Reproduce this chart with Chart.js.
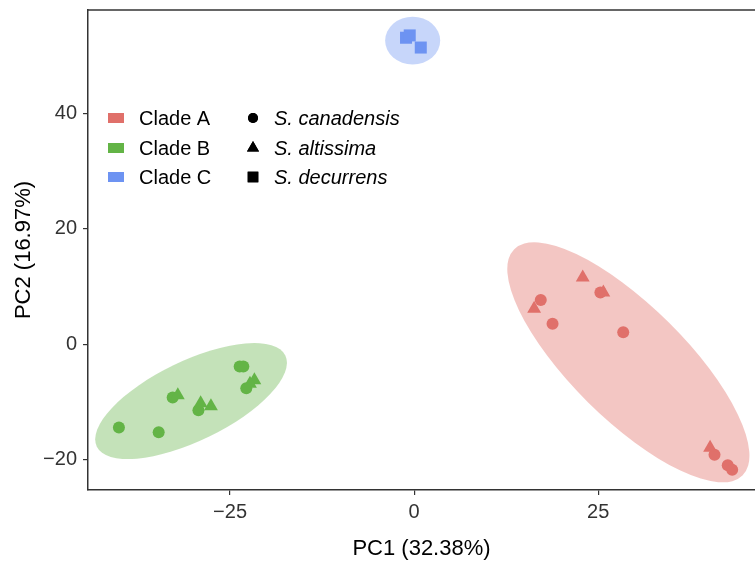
<!DOCTYPE html>
<html>
<head>
<meta charset="utf-8">
<script src="https://cdn.jsdelivr.net/npm/chart.js@4/dist/chart.umd.min.js"></script>
<style>
  body { margin: 0; background: #fff; }
  #wrap { width: 755px; height: 562px; }
</style>
</head>
<body>
<div id="wrap"><canvas id="pca"></canvas></div>
<script>
// categories
const clades = ['Clade A', 'Clade B', 'Clade C'];
const species = ['S. canadensis', 'S. altissima', 'S. decurrens'];

// PC1 / PC2 scores, species index per point (0 canadensis, 1 altissima, 2 decurrens)
const cladeA_x = [17.2, 18.8, 28.4, 25.3, 40.8, 42.6, 43.2, 22.9, 16.3, 25.7, 40.2];
const cladeA_y = [7.7, 3.6, 2.1, 9.0, -19.1, -20.9, -21.7, 11.6, 6.2, 9.0, -17.9];
const cladeA_sp = [0, 0, 0, 0, 0, 0, 0, 1, 1, 1, 1];

const cladeB_x = [-40.1, -34.7, -32.8, -29.3, -23.7, -23.2, -22.8, -32.1, -29.0, -27.6, -21.7, -22.3];
const cladeB_y = [-14.4, -15.2, -9.2, -11.4, -3.8, -3.8, -7.6, -8.8, -10.2, -10.7, -6.2, -6.8];
const cladeB_sp = [0, 0, 0, 0, 0, 0, 0, 1, 1, 1, 1, 1];

const cladeC_x = [-1.1, -0.6, 0.9];
const cladeC_y = [53.1, 53.5, 51.4];
const cladeC_sp = [2, 2, 2];

// confidence ellipses: centre, first semi-axis, second semi-axis (data units)
const ellipseA = [29.1, -3.1, 15.5, -19.6, 5.5, 6.9];
const ellipseB = [-30.3, -9.8, 12.8, 7.9, 2.4, -6.2];
const ellipseC = [-0.2, 52.6, 3.74, 0, 0, -4.14];

// axes
const xTicks = [-25, 0, 25];
const yTicks = [-20, 0, 20, 40];

const colors = ['#E0706A', '#63B446', '#6D93F2'];
const fills = ['rgba(224,112,106,0.4)', 'rgba(99,180,70,0.38)', 'rgba(109,147,242,0.38)'];
const styles = ['circle', 'triangle', 'rect'];
const radii = [6, 8, 8.5];
const FONT = "'Liberation Sans', Arial, Helvetica, sans-serif";

function makeSet(i, xs, ys, sp) {
  return {
    label: clades[i],
    data: xs.map((x, k) => ({ x: x, y: ys[k] })),
    backgroundColor: colors[i],
    borderWidth: 0,
    pointStyle: sp.map(s => styles[s]),
    pointRadius: sp.map(s => radii[s]),
    pointHoverRadius: sp.map(s => radii[s])
  };
}

const ellipsePlugin = {
  id: 'ellipses',
  beforeDatasetsDraw(chart) {
    const { ctx, chartArea, scales: { x, y } } = chart;
    const sx = x.getPixelForValue(1) - x.getPixelForValue(0);
    const sy = y.getPixelForValue(1) - y.getPixelForValue(0);
    ctx.save();
    ctx.beginPath();
    ctx.rect(chartArea.left, chartArea.top, chartArea.right - chartArea.left, chartArea.bottom - chartArea.top);
    ctx.clip();
    [ellipseA, ellipseB, ellipseC].forEach((e, i) => {
      ctx.save();
      ctx.transform(sx * e[2], sy * e[3], sx * e[4], sy * e[5], x.getPixelForValue(e[0]), y.getPixelForValue(e[1]));
      ctx.beginPath();
      ctx.arc(0, 0, 1, 0, Math.PI * 2);
      ctx.restore();
      ctx.fillStyle = fills[i];
      ctx.fill();
    });
    ctx.restore();
  }
};

const framePlugin = {
  id: 'frame',
  afterDraw(chart) {
    const { ctx, chartArea } = chart;
    ctx.save();
    ctx.strokeStyle = '#333';
    ctx.lineWidth = 1.5;
    ctx.beginPath();
    ctx.moveTo(chartArea.left, chartArea.top);
    ctx.lineTo(chartArea.right, chartArea.top);
    ctx.stroke();

    // legend
    const lx = chartArea.left + 20, sxl = chartArea.left + 165;
    const rows = [chartArea.top + 108, chartArea.top + 138, chartArea.top + 167];
    ctx.textBaseline = 'middle';
    ctx.textAlign = 'left';
    rows.forEach((ry, i) => {
      ctx.fillStyle = colors[i];
      ctx.fillRect(lx, ry - 5, 16, 10);
      ctx.fillStyle = '#000';
      ctx.font = '20px ' + FONT;
      ctx.fillText(clades[i], lx + 31, ry + 1);
      Chart.helpers.drawPoint(ctx, { pointStyle: styles[i], radius: radii[i] - 1, borderWidth: 0 }, sxl, ry);
      ctx.fillStyle = '#000';
      ctx.fill();
      ctx.font = 'italic 20px ' + FONT;
      ctx.fillText(species[i], sxl + 21, ry + 1);
    });
    ctx.restore();
  }
};

new Chart(document.getElementById('pca'), {
  type: 'scatter',
  data: {
    datasets: [
      makeSet(0, cladeA_x, cladeA_y, cladeA_sp),
      makeSet(1, cladeB_x, cladeB_y, cladeB_sp),
      makeSet(2, cladeC_x, cladeC_y, cladeC_sp)
    ]
  },
  options: {
    responsive: true,
    maintainAspectRatio: false,
    animation: false,
    layout: { autoPadding: false, padding: { top: 10, right: 0, left: 0, bottom: 0 } },
    plugins: { legend: { display: false }, tooltip: { enabled: false } },
    scales: {
      x: {
        type: 'linear',
        min: -44.3,
        max: 46.3,
        afterBuildTicks: s => { s.ticks = xTicks.map(v => ({ value: v })); },
        afterFit: s => { s.height = 72; s.paddingLeft = 0; s.paddingRight = 0; },
        grid: { drawOnChartArea: false, drawTicks: true, tickLength: 5, color: '#333', lineWidth: 1.2 },
        border: { display: true, color: '#333', width: 1.5 },
        ticks: { color: '#333', padding: 5, font: { size: 20, family: FONT }, callback: v => String(v).replace('-', '\u2212') },
        title: { display: true, text: 'PC1 (32.38%)', color: '#000', padding: { top: 0, bottom: 0 }, font: { size: 22, family: FONT } }
      },
      y: {
        type: 'linear',
        min: -25.2,
        max: 57.9,
        afterBuildTicks: s => { s.ticks = yTicks.map(v => ({ value: v })); },
        afterFit: s => { s.width = 88; s.paddingTop = 0; s.paddingBottom = 0; },
        grid: { drawOnChartArea: false, drawTicks: true, tickLength: 5, color: '#333', lineWidth: 1.2 },
        border: { display: true, color: '#333', width: 1.5 },
        ticks: { color: '#333', padding: 6, font: { size: 20, family: FONT }, callback: v => String(v).replace('-', '\u2212') },
        title: { display: true, text: 'PC2 (16.97%)', color: '#000', padding: { top: 11, bottom: 0 }, font: { size: 22, family: FONT } }
      }
    }
  },
  plugins: [ellipsePlugin, framePlugin]
});
</script>
</body>
</html>
